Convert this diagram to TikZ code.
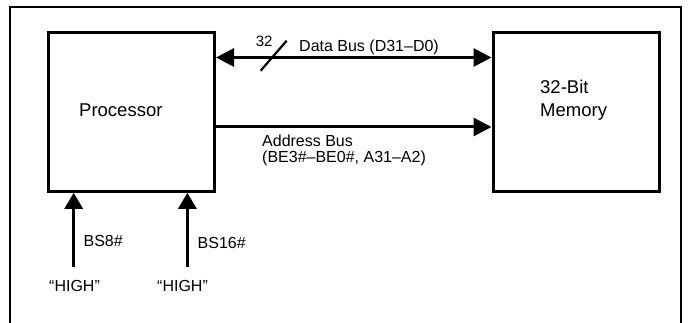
\documentclass[tikz,border=0pt]{standalone}
\usepackage{fontspec}
\setmainfont{Liberation Sans}
\usetikzlibrary{arrows.meta}
\tikzset{
  box/.style={draw, line width=3pt, inner sep=0pt, minimum width=166pt, minimum height=159pt},
  bigtxt/.style={anchor=base west, inner sep=0pt, font=\fontsize{18.5}{23.4}\selectfont},
  txt/.style={anchor=base west, inner sep=0pt, font=\fontsize{16}{16}\selectfont},
  smalltxt/.style={anchor=base west, inner sep=0pt, font=\fontsize{15}{15}\selectfont},
  bus/.style={line width=3pt, -{Triangle[length=18pt,width=18pt]}},
  dbus/.style={line width=3pt, {Triangle[length=18pt,width=18pt]}-{Triangle[length=18pt,width=18pt]}},
  sig/.style={line width=3pt, -{Triangle[length=16pt,width=18pt]}},
  frame/.style={line width=1.6pt}
}
\begin{document}
\begin{tikzpicture}[x=1pt,y=-1pt]
\useasboundingbox (0,0) rectangle (688,323);
\draw[frame] (10,330) -- (10,7) -- (681,7) -- (681,330);
\node[box] (proc) at (131.5,111.8) {};
\node[box] (mem) at (576,111.8) {};
\node[bigtxt] (proclbl) at (79,117) {Processor};
\node[bigtxt] (memlbl1) at (540,93.3) {32-Bit};
\node[bigtxt] (memlbl2) at (540,116.7) {Memory};
\draw[dbus] (proc.east |- 0,57.5) -- (mem.west |- 0,57.5);
\draw[bus] (proc.east |- 0,127) -- (mem.west |- 0,127);
\draw[line width=2.2pt] (260.7,70.7) -- (286.7,40.7);
\node[smalltxt] (w32) at (255.7,46.5) {32};
\node[txt] (dlbl) at (299,51.5) {Data Bus (D31--D0)};
\node[txt] (albl1) at (262,147) {Address Bus};
\node[txt] (albl2) at (262,162.5) {(BE3\#--BE0\#, A31--A2)};
\coordinate (bs8) at (73.7,266.7);
\coordinate (bs16) at (187.4,266.7);
\draw[sig] (bs8) -- (bs8 |- proc.south);
\draw[sig] (bs16) -- (bs16 |- proc.south);
\node[txt] (bs8lbl) at (83.4,246.7) {BS8\#};
\node[txt] (bs16lbl) at (197.5,248.3) {BS16\#};
\node[txt] (high1) at (49,291.7) {“HIGH”};
\node[txt] (high2) at (157,291.7) {“HIGH”};
\end{tikzpicture}
\end{document}
